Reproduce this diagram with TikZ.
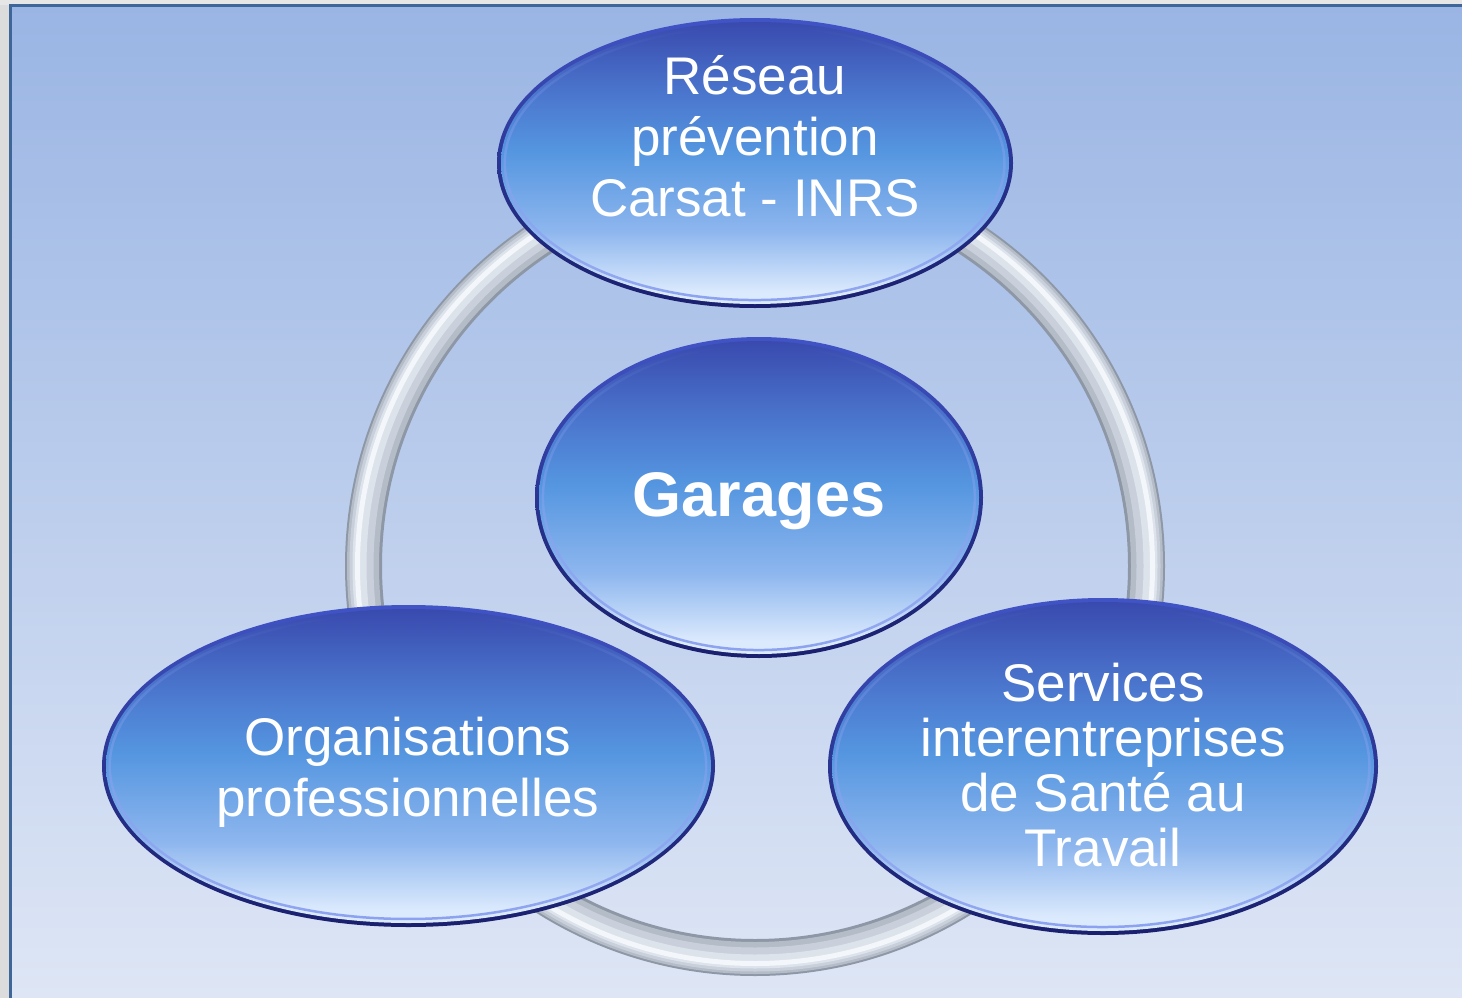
\documentclass[tikz,border=0pt]{standalone}
\usepackage{fontspec}
\setmainfont{Liberation Sans}
\usetikzlibrary{shapes.geometric,fadings}
\definecolor{outergray}{HTML}{DCDCDC}
\definecolor{topgray}{HTML}{E6E6E6}
\definecolor{framecol}{HTML}{3F6699}
\definecolor{bgtop}{HTML}{9AB5E4}
\definecolor{bgbot}{HTML}{DEE6F5}
\definecolor{rimtop}{HTML}{4154C6}
\definecolor{rimbot}{HTML}{1A206E}
\definecolor{flA}{HTML}{394AAE}
\definecolor{flB}{HTML}{4A74CC}
\definecolor{flC}{HTML}{5596E0}
\definecolor{flD}{HTML}{8DB6EE}
\definecolor{flE}{HTML}{DCEAFD}
\definecolor{hlcol}{HTML}{8CA2F0}
\definecolor{ringA}{HTML}{8E97A6}
\definecolor{ringB}{HTML}{B4BCC8}
\definecolor{ringC}{HTML}{C9D0DB}
\definecolor{ringD}{HTML}{DDE3EB}
\definecolor{ringE}{HTML}{F3F6FA}
\pgfdeclareverticalshading{ballfill}{100bp}{color(0bp)=(flE); color(27bp)=(flE); color(38bp)=(flD); color(52bp)=(flC); color(63bp)=(flB); color(75bp)=(flA); color(100bp)=(flA)}
\pgfdeclareverticalshading{rimfill}{100bp}{color(0bp)=(rimbot); color(25bp)=(rimbot); color(45bp)=(rimbot!70!rimtop); color(75bp)=(rimtop); color(100bp)=(rimtop)}
\tikzset{
  orbrim/.style={ellipse, inner sep=0pt, outer sep=0pt, shade, shading=rimfill},
  orbfill/.style={ellipse, inner sep=0pt, outer sep=0pt, shade, shading=ballfill},
  orbhl/.style={draw=hlcol, line width=2.5pt, path fading=north},
  lbl/.style={text=white, align=center, font=\fontsize{53}{61}\selectfont, inner sep=0pt},
}
\begin{document}
\begin{tikzpicture}[x=1pt,y=-1pt]
\useasboundingbox (0,0) rectangle (1462,998);
% backdrop
\fill[outergray] (0,0) rectangle (1462,998);
\fill[topgray] (0,0) rectangle (1462,5);
\shade[top color=bgtop, bottom color=bgbot] (10,5.5) rectangle (1462,998);
\draw[framecol, line width=3pt] (10,998) -- (10,5.5) -- (1462,5.5);
% ring
\coordinate (rc) at (755,566);
\draw[ringA, line width=37pt] (rc) circle (391.5);
\draw[ringB, line width=32pt] (rc) circle (392);
\draw[ringC, line width=24pt] (rc) circle (393.5);
\draw[ringD, line width=14pt] (rc) circle (395.5);
\draw[ringE, line width=5pt] (rc) circle (397.5);
% top orb
\node[orbrim, minimum width=516pt, minimum height=290pt] (topR) at (755,163) {};
\node[orbfill, minimum width=508pt, minimum height=282pt] (top) at (topR.center) {};
\draw[orbhl] (top.center) ellipse (250 and 137);
\node[lbl] (topT) at (755,136) {Réseau\\prévention\\Carsat - INRS};
% centre orb
\node[orbrim, minimum width=448pt, minimum height=321pt] (midR) at (759,497.5) {};
\node[orbfill, minimum width=440pt, minimum height=313pt] (mid) at (midR.center) {};
\draw[orbhl] (mid.center) ellipse (216 and 152.5);
\node[lbl, font=\fontsize{63}{70}\selectfont\bfseries] (midT) at (759,501) {Garages};
% left orb
\node[orbrim, minimum width=613pt, minimum height=322pt] (leftR) at (408.5,766) {};
\node[orbfill, minimum width=605pt, minimum height=314pt] (left) at (leftR.center) {};
\draw[orbhl] (left.center) ellipse (298.5 and 153);
\node[lbl] (leftT) at (408,772) {Organisations\\professionnelles};
% right orb
\node[orbrim, minimum width=550pt, minimum height=337pt] (rightR) at (1103,766.5) {};
\node[orbfill, minimum width=542pt, minimum height=329pt] (right) at (rightR.center) {};
\draw[orbhl] (right.center) ellipse (267 and 160.5);
\node[lbl, font=\fontsize{53}{55}\selectfont] (rightT) at (1103,765) {Services\\interentreprises\\de Santé au\\Travail};
\end{tikzpicture}
\end{document}
